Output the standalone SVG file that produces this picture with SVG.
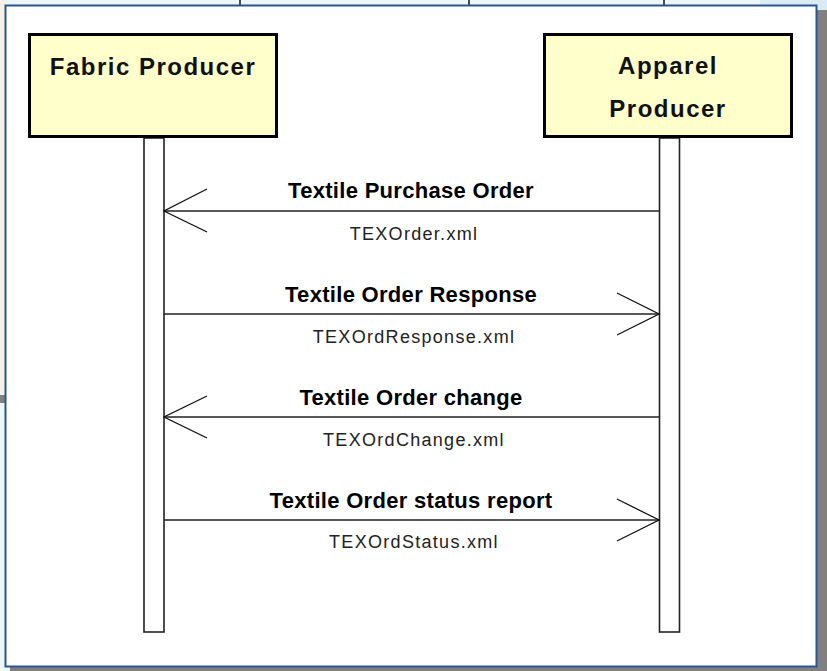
<svg xmlns="http://www.w3.org/2000/svg" width="827" height="671" viewBox="0 0 827 671">
<defs>
<style>
.box{fill:#ffffcc;stroke:#000;stroke-width:3}
.life{fill:#fff;stroke:#222;stroke-width:1.6}
.msg{stroke:#222;stroke-width:1.6;fill:none}
.head{stroke:#111;stroke-width:1.3;fill:none}
.title{font-family:"Liberation Sans",Arial,sans-serif;font-weight:bold;font-size:24px;letter-spacing:1.5px;fill:#111;text-anchor:middle}
.lbl{font-family:"Liberation Sans",Arial,sans-serif;font-weight:bold;font-size:22px;letter-spacing:0.3px;fill:#000;text-anchor:middle}
.file{font-family:"Liberation Sans",Arial,sans-serif;font-size:18px;letter-spacing:1.3px;fill:#222;text-anchor:middle}
</style>
</defs>
<!-- background (screen behind the window) -->
<rect x="0" y="0" width="827" height="671" fill="#eef7f7"/>
<rect x="0" y="0" width="6" height="395" fill="#f6f0e6"/>
<rect x="0" y="395" width="6" height="8" fill="#808080"/>
<rect x="817" y="10" width="10" height="661" fill="#808080"/>
<rect x="10" y="667" width="817" height="4" fill="#808080"/>
<rect x="760" y="0" width="67" height="10" fill="#dceaf4"/>
<g stroke="#111" stroke-width="1.5">
<line x1="240" y1="0" x2="240" y2="5"/>
<line x1="469" y1="0" x2="469" y2="5"/>
<line x1="664" y1="0" x2="664" y2="5"/>
</g>
<!-- window panel -->
<rect x="5.5" y="5.5" width="811" height="661" fill="#fff" stroke="#2a5590" stroke-width="2"/>

<g id="fabric-producer">
<rect class="life" x="144" y="138" width="20" height="494"/>
<rect class="box" x="29.5" y="34.5" width="247" height="102"/>
<text class="title" x="153" y="75">Fabric Producer</text>
</g>

<g id="apparel-producer">
<rect class="life" x="659.5" y="138" width="20" height="494"/>
<rect class="box" x="544.5" y="34.5" width="247" height="102"/>
<text class="title" x="668" y="74">Apparel</text>
<text class="title" x="668" y="117">Producer</text>
</g>

<g id="connectors">
<g id="msg-purchase-order">
<line class="msg" x1="659" y1="211" x2="164" y2="211"/>
<polyline class="head" points="207,189 164,211 207,232"/>
<text class="lbl" x="411" y="198">Textile Purchase Order</text>
<text class="file" x="414" y="240">TEXOrder.xml</text>
</g>
<g id="msg-order-response">
<line class="msg" x1="164" y1="314" x2="659" y2="314"/>
<polyline class="head" points="617,293 659,314 617,335"/>
<text class="lbl" x="411" y="302">Textile Order Response</text>
<text class="file" x="414" y="343">TEXOrdResponse.xml</text>
</g>
<g id="msg-order-change">
<line class="msg" x1="659" y1="417" x2="164" y2="417"/>
<polyline class="head" points="207,396 164,417 207,438"/>
<text class="lbl" x="411" y="405">Textile Order change</text>
<text class="file" x="414" y="446">TEXOrdChange.xml</text>
</g>
<g id="msg-status-report">
<line class="msg" x1="164" y1="520" x2="659" y2="520"/>
<polyline class="head" points="617,499 659,520 617,541"/>
<text class="lbl" x="411" y="508">Textile Order status report</text>
<text class="file" x="414" y="548">TEXOrdStatus.xml</text>
</g>
</g>
</svg>
